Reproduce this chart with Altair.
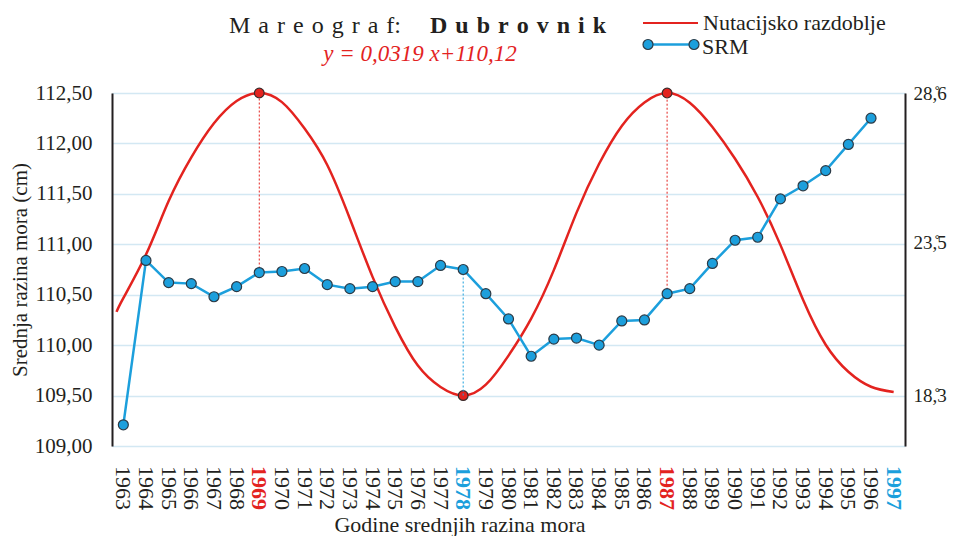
import altair as alt
import pandas as pd

# ---------------- data ----------------
years = list(range(1963, 1997))
srm = [109.21, 110.84, 110.62, 110.61, 110.48, 110.58, 110.72, 110.73, 110.76, 110.60,
       110.56, 110.58, 110.63, 110.63, 110.79, 110.75, 110.51, 110.26, 109.89, 110.06,
       110.07, 110.00, 110.24, 110.25, 110.51, 110.56, 110.81, 111.04, 111.07, 111.45,
       111.58, 111.73, 111.99, 112.25]

nut_years = [1962.7] + list(range(1963, 1998))
nut_deg = [21.15, 21.62, 23.10, 24.92, 26.41, 27.57, 28.33, 28.6, 28.29, 27.39,
           26.15, 24.32, 22.34, 20.64, 19.32, 18.59, 18.3, 18.67, 19.66, 20.92,
           22.57, 24.52, 26.19, 27.48, 28.28, 28.6, 28.27, 27.44, 26.36, 25.06,
           23.43, 21.56, 20.03, 19.11, 18.60, 18.42]

label_years = list(range(1963, 1998))
red_label_years = [1969, 1987]
blue_label_years = [1978, 1997]

extreme_years = [1969, 1978, 1987]
peak_years = [1969, 1987]
trough_years = [1978]

left_ticks = [109.0, 109.5, 110.0, 110.5, 111.0, 111.5, 112.0, 112.5]
right_ticks = [18.3, 23.5, 28.6]
x_edges = [1962.5 + k for k in range(36)]

LEFT_DOM = [109.0, 112.5]
# right axis: 18.3 sits on 109.5 and 28.6 on 112.5
RIGHT_DOM = [18.3 - 0.5 * 10.3 / 3.0, 28.6]

FONT = "Liberation Serif"
INK = "#231f20"
RED = "#e3231f"
BLUE = "#1c9fdc"
GRID = "#d3e8f3"
W, H = 793, 353

srm_df = pd.DataFrame({"god": years, "srm": srm})
nut_df = pd.DataFrame({"god": nut_years, "deg": nut_deg})
ext_df = nut_df[nut_df["god"].isin(extreme_years)].copy()

conn = ext_df.merge(srm_df, on="god")
conn["red_cm"] = 109.5 + (conn["deg"] - 18.3) * 3.0 / 10.3
conn_red = conn[conn["god"].isin(peak_years)]
conn_blue = conn[conn["god"].isin(trough_years)]

lab_df = pd.DataFrame({"god": label_years})
lab_df["kind"] = "n"
lab_df.loc[lab_df["god"].isin(red_label_years), "kind"] = "r"
lab_df.loc[lab_df["god"].isin(blue_label_years), "kind"] = "b"

xscale = alt.Scale(domain=[1962.5, 1997.5], nice=False, zero=False)
lscale = alt.Scale(domain=LEFT_DOM, nice=False, zero=False)
rscale = alt.Scale(domain=RIGHT_DOM, nice=False, zero=False)

xaxis = alt.Axis(
    values=x_edges, labels=False,
    tickSize=7, tickColor=INK, tickWidth=1.5,
    domainColor=INK, domainWidth=2, grid=False, title=None,
)

lyaxis = alt.Axis(
    values=left_ticks,
    labelExpr="replace(format(datum.value, '.2f'), '.', ',')",
    labelFont=FONT, labelFontSize=21, labelColor=INK, labelPadding=20,
    ticks=False, domainColor=INK, domainWidth=2,
    grid=True, gridColor=GRID, gridWidth=1.5,
    title="Srednja razina mora (cm)", titleFont=FONT, titleFontSize=21,
    titleFontWeight="normal", titleColor=INK, titlePadding=4,
)

ryaxis = alt.Axis(
    orient="right", values=right_ticks,
    labelExpr="replace(format(datum.value, '.1f'), '.', ',\u030a')",
    labelFont=FONT, labelFontSize=19, labelColor=INK, labelPadding=8,
    ticks=False, domainColor=INK, domainWidth=2, grid=False, title=None,
)

# ---------------- nutation curve (right axis) ----------------
red_line = alt.Chart(nut_df).mark_line(
    color=RED, strokeWidth=2.5, interpolate="natural"
).encode(
    x=alt.X("god:Q", scale=xscale, axis=xaxis),
    y=alt.Y("deg:Q", scale=rscale, axis=ryaxis),
)
red_dots = alt.Chart(ext_df).mark_point(
    filled=True, fill=RED, stroke="#3a2a2a", strokeWidth=1.2, size=95, opacity=1
).encode(
    x=alt.X("god:Q", scale=xscale, axis=None),
    y=alt.Y("deg:Q", scale=rscale),
)
right = alt.layer(red_line, red_dots)

# ---------------- mean sea level (left axis) ----------------
rule_red = alt.Chart(conn_red).mark_rule(
    color=RED, strokeWidth=1, strokeDash=[2, 2]
).encode(
    x=alt.X("god:Q", scale=xscale, axis=None),
    y=alt.Y("srm:Q", scale=lscale),
    y2="red_cm:Q",
)
rule_blue = alt.Chart(conn_blue).mark_rule(
    color=BLUE, strokeWidth=1, strokeDash=[2, 2]
).encode(
    x=alt.X("god:Q", scale=xscale, axis=None),
    y=alt.Y("srm:Q", scale=lscale),
    y2="red_cm:Q",
)
blue_line = alt.Chart(srm_df).mark_line(color=BLUE, strokeWidth=2.5).encode(
    x=alt.X("god:Q", scale=xscale, axis=None),
    y=alt.Y("srm:Q", scale=lscale, axis=lyaxis),
)
blue_pts = alt.Chart(srm_df).mark_point(
    filled=True, fill=BLUE, stroke="#2b3a46", strokeWidth=1.2, size=100, opacity=1
).encode(
    x=alt.X("god:Q", scale=xscale, axis=None),
    y=alt.Y("srm:Q", scale=lscale),
)
left = alt.layer(blue_line, rule_red, rule_blue, blue_pts)

# ---------------- year labels under the axis ----------------
kind_color = alt.Color("kind:N", scale=alt.Scale(domain=["n", "r", "b"],
                                                  range=[INK, RED, BLUE]), legend=None)
year_norm = alt.Chart(lab_df).transform_filter("datum.kind == 'n'").mark_text(
    angle=90, align="left", baseline="middle", font=FONT, fontSize=22
).encode(
    x=alt.X("god:Q", scale=xscale, axis=None),
    y=alt.value(H + 20),
    text=alt.Text("god:N"),
    color=kind_color,
)
year_hi = alt.Chart(lab_df).transform_filter("datum.kind != 'n'").mark_text(
    angle=90, align="left", baseline="middle", font=FONT, fontSize=22,
    fontWeight="bold"
).encode(
    x=alt.X("god:Q", scale=xscale, axis=None),
    y=alt.value(H + 20),
    text=alt.Text("god:N"),
    color=kind_color,
)

# ---------------- title + legend (annotation) ----------------
one = pd.DataFrame({"k": [0]})


def txt(text, x, y, size, color, weight="normal", style="normal", align="left"):
    return alt.Chart(one).mark_text(
        text=text, align=align, baseline="alphabetic", font=FONT,
        fontSize=size, color=color, fontWeight=weight, fontStyle=style,
    ).encode(x=alt.value(x), y=alt.value(y))


sp = "\u2004"
title1 = txt(sp.join("Mareograf") + ":", 117, -60, 24, INK)
title2 = txt(sp.join("Dubrovnik"), 318, -60, 24, INK, weight="bold")
eq = txt("y = 0,0319 x+110,12", 308, -32, 23, RED, style="italic", align="center")
xtitle = txt("Godine srednjih razina mora", 348, H + 86, 22, INK, align="center")

leg_red = alt.Chart(one).mark_rule(color=RED, strokeWidth=2).encode(
    x=alt.value(531), x2=alt.value(586), y=alt.value(-70))
leg_blue = alt.Chart(one).mark_rule(color=BLUE, strokeWidth=2.5).encode(
    x=alt.value(536), x2=alt.value(582), y=alt.value(-48.5))
leg_dot1 = alt.Chart(one).mark_point(
    filled=True, fill=BLUE, stroke="#2b3a46", strokeWidth=1.2, size=100, opacity=1
).encode(x=alt.value(536), y=alt.value(-48.5))
leg_dot2 = alt.Chart(one).mark_point(
    filled=True, fill=BLUE, stroke="#2b3a46", strokeWidth=1.2, size=100, opacity=1
).encode(x=alt.value(582), y=alt.value(-48.5))
leg_t1 = txt("Nutacijsko razdoblje", 591, -63, 22, INK)
leg_t2 = txt("SRM", 590, -39, 22, INK)

chart = alt.layer(
    right, left, year_norm, year_hi, title1, title2, eq, xtitle,
    leg_red, leg_blue, leg_dot1, leg_dot2, leg_t1, leg_t2,
).resolve_scale(y="independent", color="independent").properties(
    width=W, height=H,
    autosize=alt.AutoSizeParams(type="none"),
    padding={"left": 104, "top": 85, "right": 43, "bottom": 90},
).configure_view(stroke=None).configure(background="white")

chart.save("out.html", embed_options={"renderer": "svg", "actions": False})
